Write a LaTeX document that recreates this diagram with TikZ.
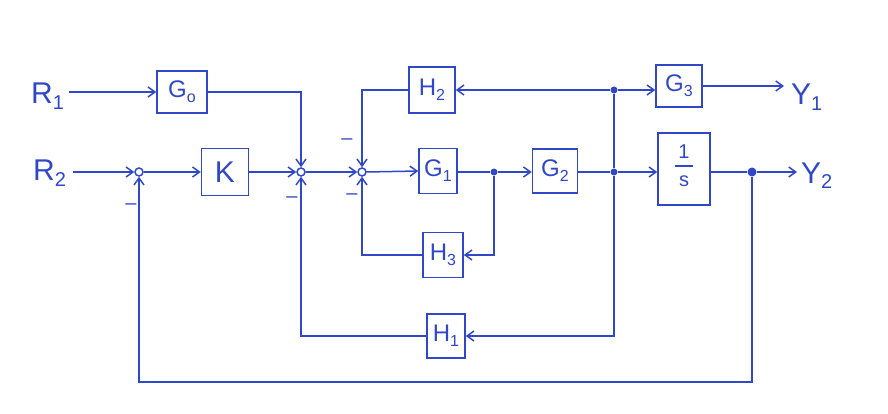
\documentclass[tikz,border=0pt]{standalone}
\usepackage{fontspec}
\setmainfont{Liberation Sans}
\usetikzlibrary{arrows.meta,calc}
\definecolor{pen}{RGB}{48,72,200}
\newcommand\lowsub[2][16]{\raisebox{-0.2em}{\fontsize{#1}{#1}\selectfont #2}}
\begin{document}
\begin{tikzpicture}[x=1pt,y=-1pt,
  every node/.style={text=pen},
  blk/.style={draw=pen,line width=1.5pt,inner sep=0pt,font=\fontsize{24}{24}\selectfont},
  sumj/.style={circle,draw=pen,line width=1.5pt,minimum size=8pt,inner sep=0pt},
  dotj/.style={circle,fill=pen,minimum size=7pt,inner sep=0pt},
  sig/.style={font=\fontsize{30}{30}\selectfont,inner sep=1pt},
  minuslbl/.style={font=\fontsize{20}{20}\selectfont,inner sep=0pt},
  wire/.style={draw=pen,line width=1.5pt},
  arr/.style={wire,-{Straight Barb[length=7pt,width=10pt,line width=1.5pt]}},
]
\useasboundingbox (0,0) rectangle (888,414);

% signals
\node[sig,anchor=base west] (R1) at (30,104) {R\lowsub[20]{1}};
\node[sig,anchor=base west] (R2) at (32,181) {R\lowsub[20]{2}};
\node[sig,anchor=base west] (Y1) at (790,105) {Y\lowsub[20]{1}};
\node[sig,anchor=base west] (Y2) at (800,183) {Y\lowsub[20]{2}};

% blocks
\node[blk,minimum width=50pt,minimum height=42pt] (G0) at (182,92) {G\lowsub{o}};
\node[blk,minimum width=47pt,minimum height=47pt,font=\fontsize{30}{30}\selectfont] (K) at (225,172) {K};
\node[blk,minimum width=46pt,minimum height=46pt] (H2) at (432,90) {H\lowsub{2}};
\node[blk,minimum width=38pt,minimum height=45pt] (G1) at (438,171) {G\lowsub{1}};
\node[blk,minimum width=45pt,minimum height=44pt] (G2) at (555,171) {G\lowsub{2}};
\node[blk,minimum width=40pt,minimum height=45pt] (H3) at (443,255) {H\lowsub{3}};
\node[blk,minimum width=38pt,minimum height=44pt] (H1) at (446,336) {H\lowsub{1}};
\node[blk,minimum width=46pt,minimum height=42pt] (G3) at (679,86) {G\lowsub{3}};
\node[blk,minimum width=52pt,minimum height=72pt,font=\fontsize{20}{20}\selectfont] (Sinv) at (684,169)
  {\begin{tabular}{@{}c@{}}1\\[-6pt]\rule[0.3em]{18pt}{1.5pt}\\[-6pt]s\end{tabular}};

% junctions
\node[sumj] (s1) at (139,172) {};
\node[sumj] (s2) at (301,172) {};
\node[sumj] (s3) at (362,172) {};
\node[dotj] (dA) at (494,172) {};
\node[dotj] (dB) at (614,90) {};
\node[dotj] (dC) at (614,172) {};
\node[dotj,minimum size=9pt] (dD) at (752,172) {};

% minus signs
\node[minuslbl] (m1) at (131,207) {–};
\node[minuslbl] (m2) at (292,200) {–};
\node[minuslbl] (m3) at (347,142) {–};
\node[minuslbl] (m4) at (352,197) {–};

% connectors
\draw[arr] ($(G0.west -| R1.east)+(4,0)$) -- (G0.west);
\draw[arr] (G0.east) -| (s2.north);
\draw[arr] ($(s1.west -| R2.east)+(6,0)$) -- (s1.west);
\draw[arr] (s1.east) -- (K.west);
\draw[arr] (K.east) -- (s2.west);
\draw[arr] (s2.east) -- (s3.west);
\draw[arr] (s3.east) -- (G1.west);
\draw[wire] (G1.east |- dA) -- (dA);
\draw[arr] (dA) -- (dA -| G2.west);
\draw[wire] (G2.east |- dC) -- (dC);
\draw[arr] (dC) -- (dC -| Sinv.west);
\draw[wire] (Sinv.east |- dD) -- (dD);
\draw[arr] (dD) -- ($(dD -| Y2.west)+(-3,0)$);
\draw[arr] (dA) |- (H3.east);
\draw[arr] (H3.west) -| (s3.south);
\draw[arr] (dB) -- (dB -| H2.east);
\draw[arr] (H2.west) -| (s3.north);
\draw[arr] (dB) -- (dB -| G3.west);
\draw[arr] (G3.east) -- ($(G3.east -| Y1.west)+(-6,0)$);
\draw[wire] (dB) -- (dC);
\draw[arr] (dC) |- (H1.east);
\draw[arr] (H1.west) -| (s2.south);
\coordinate (bot) at (0,382);
\draw[arr] (dD) -- (dD |- bot) -- (s1 |- bot) -- (s1.south);
\end{tikzpicture}
\end{document}
